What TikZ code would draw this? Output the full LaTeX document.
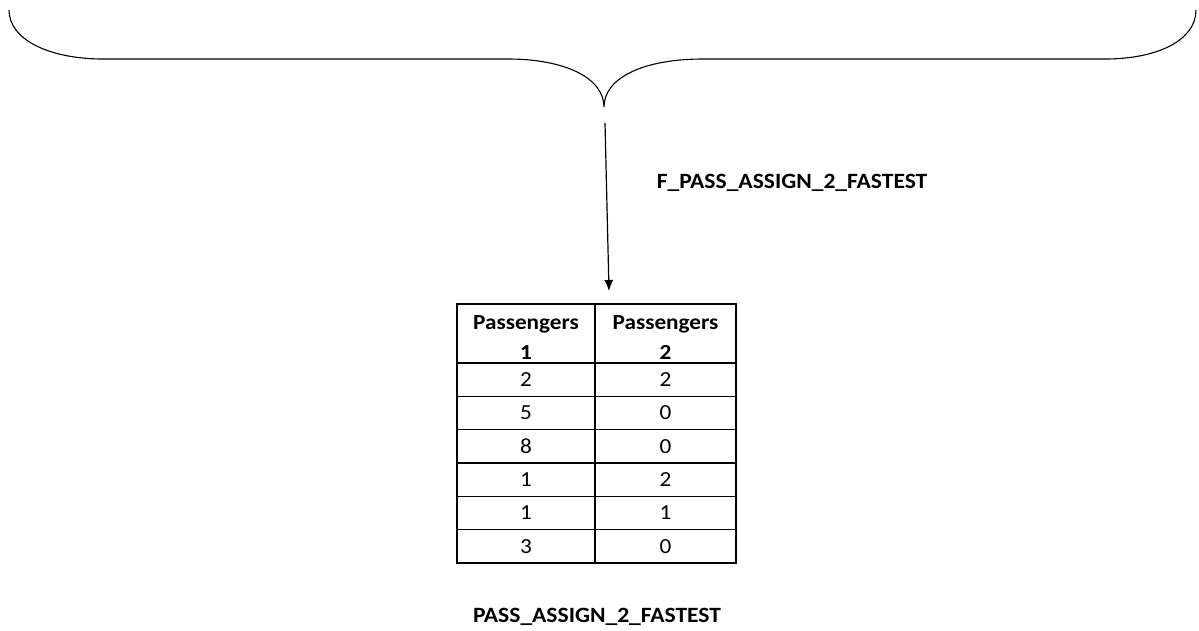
\documentclass[tikz,border=0pt]{standalone}
\usepackage{fontspec}
\setmainfont[FakeStretch=1.08]{Carlito}
\usetikzlibrary{arrows.meta}
\begin{document}
\begin{tikzpicture}[x=1pt,y=-1pt,
  line width=1.3pt,
  cell/.style={draw, line width=1.3pt, inner sep=0pt, align=center, anchor=center,
    font=\fontsize{21.5}{28}\selectfont},
  hcell/.style={cell, minimum height=59pt, font=\fontsize{21.5}{30}\selectfont\bfseries},
  c1/.style={minimum width=138pt},
  c2/.style={minimum width=141pt},
  rowcell/.style={minimum height=33.3pt},
  lbl/.style={font=\fontsize{21.8}{26}\selectfont\bfseries, inner sep=0pt},
  conn/.style={line width=1.2pt, -{Latex[length=11pt,width=9pt]}}
]
\useasboundingbox (0,0) rectangle (1199,630);
% brace
\coordinate (btip) at (604,107);
\draw[line width=1.1pt] (9,10) .. controls (9,40) and (50,59) .. (103,59) -- (508,59)
  .. controls (565,59) and (604,78) .. (btip)
  .. controls (604,78) and (643,59) .. (703,59) -- (1105,59)
  .. controls (1158,59) and (1196,40) .. (1196,10);
% arrow
\coordinate (astart) at (605,123);
\coordinate (aend) at (609,291);
\draw[conn] (astart) -- (aend);
% labels
\node[lbl] (flabel) at (792,183) {F\_PASS\_ASSIGN\_2\_FASTEST};
\node[lbl] (tlabel) at (597,617) {PASS\_ASSIGN\_2\_FASTEST};
% table
\node[hcell,c1] (h1) at (526,333.5) {\rule{0pt}{22pt}Passengers\\1};
\node[hcell,c2] (h2) at (665.5,333.5) {\rule{0pt}{22pt}Passengers\\2};
\foreach \i/\a/\b [count=\r] in {0/2/2,1/5/0,2/8/0,3/1/2,4/1/1,5/3/0}{
  \node[cell,c1,rowcell] (r\r a) at (526,{379.7+33.3*\i}) {\a};
  \node[cell,c2,rowcell] (r\r b) at (665.5,{379.7+33.3*\i}) {\b};
}
\end{tikzpicture}
\end{document}
